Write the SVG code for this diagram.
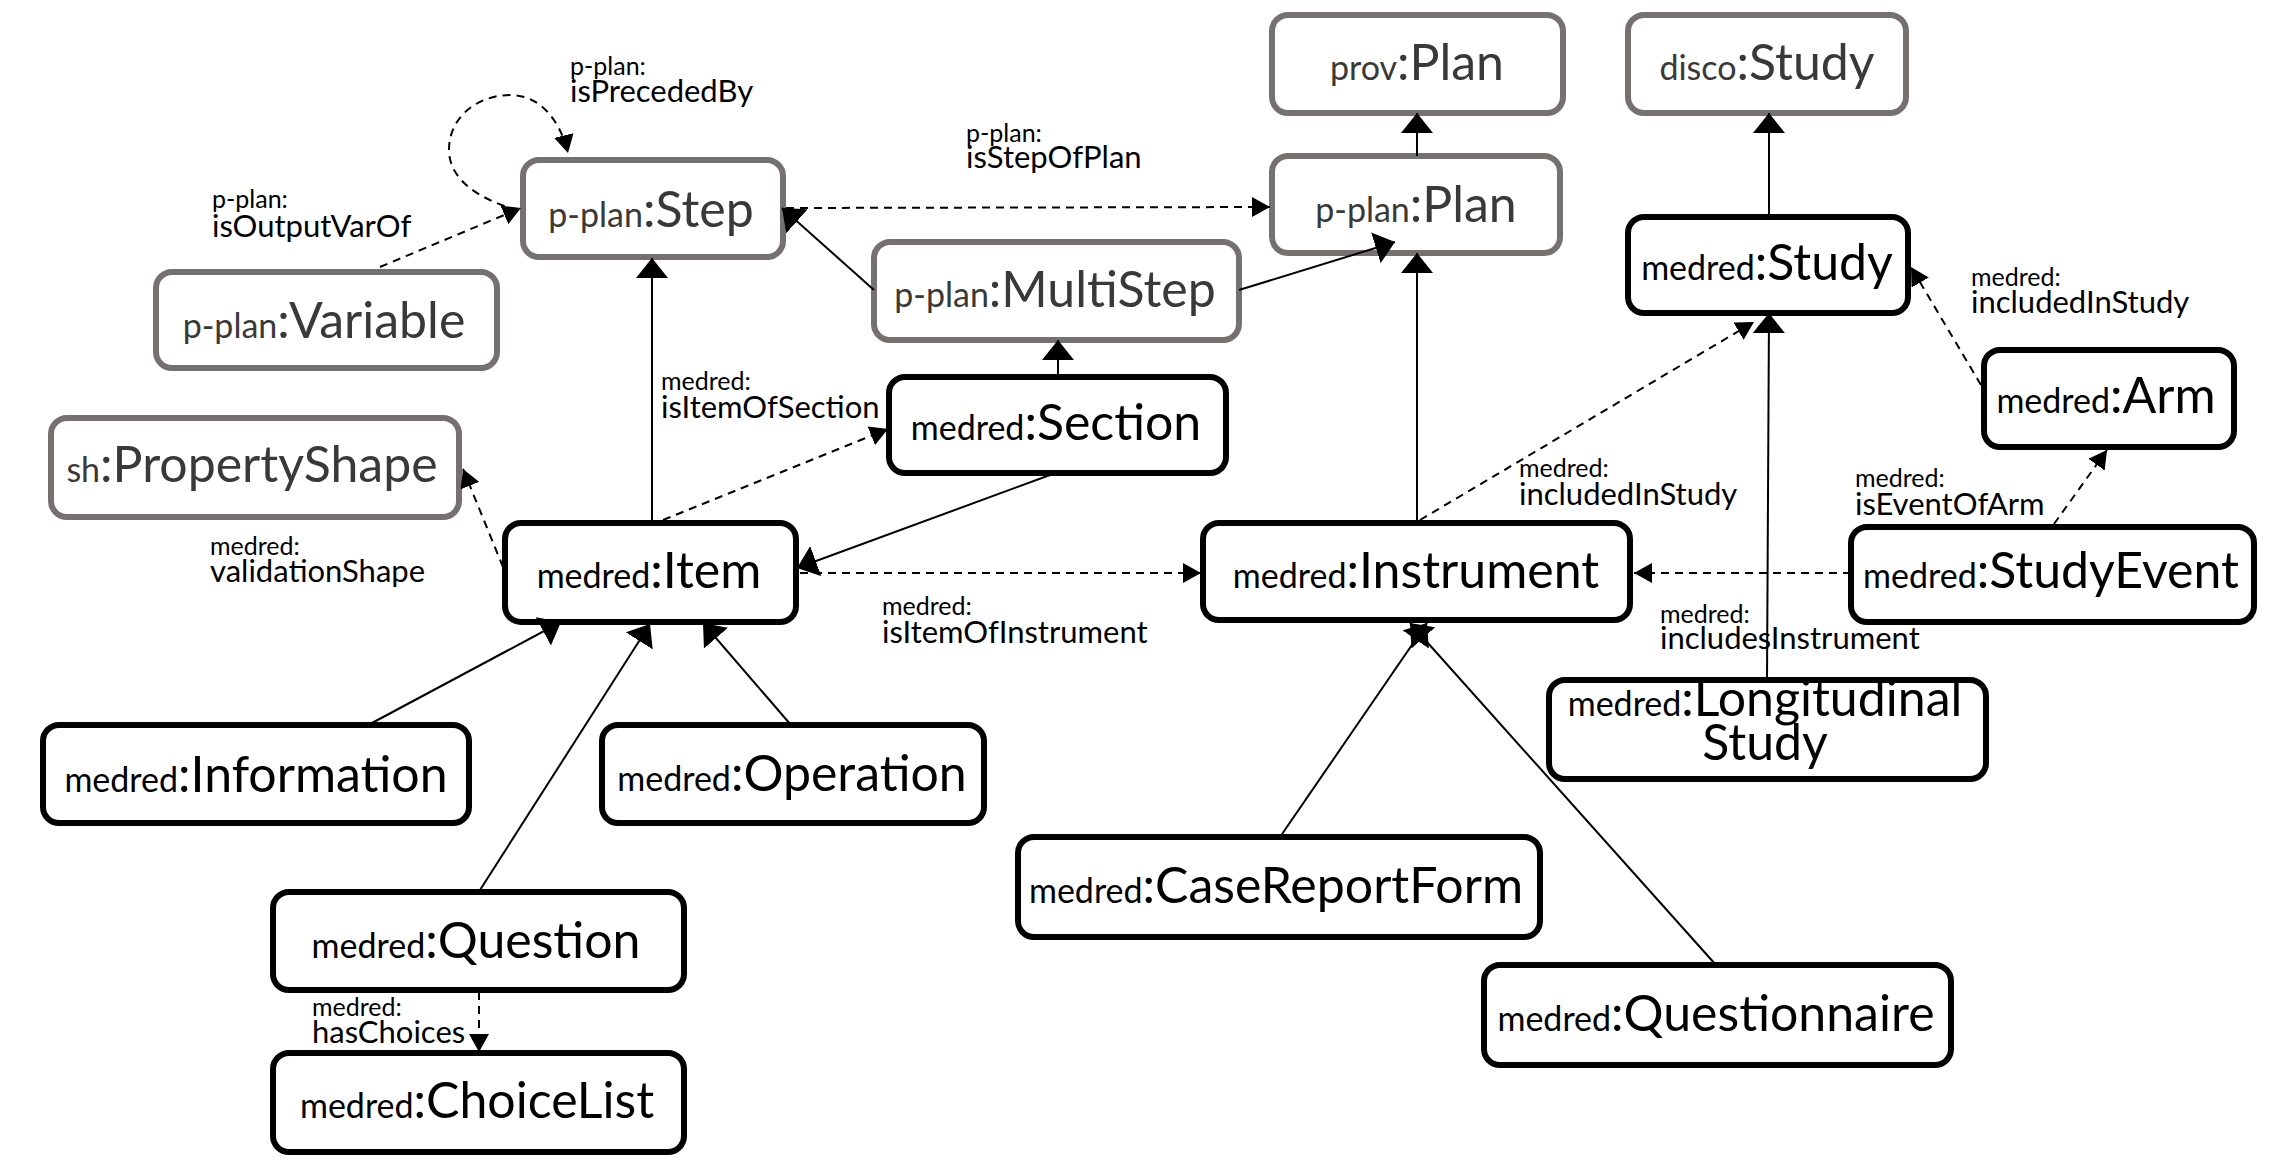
<svg xmlns="http://www.w3.org/2000/svg" width="2286" height="1176" viewBox="0 0 2286 1176">
<defs>
<style>
.g rect{fill:#fff;stroke:#767171;stroke-width:6}
.b rect{fill:#fff;stroke:#000;stroke-width:6}
.g text{fill:#3B3838}
.b text{fill:#000}
text{font-family:Lato,"Open Sans","DejaVu Sans",sans-serif}
.n{text-anchor:middle}
.p{font-size:34px}
.l{font-size:50px}
.lbl{font-size:31px;fill:#000}
.lp{font-size:25px}
.s{fill:none;stroke:#000;stroke-width:2;marker-end:url(#big)}
.d{fill:none;stroke:#000;stroke-width:2;stroke-dasharray:8 6;marker-end:url(#small)}
</style>
<marker id="big" markerUnits="userSpaceOnUse" markerWidth="20" markerHeight="32" refX="20" refY="16" orient="auto" viewBox="0 0 20 32"><path d="M0,0 L20,16 L0,32 z" fill="#000"/></marker>
<marker id="small" markerUnits="userSpaceOnUse" markerWidth="18" markerHeight="20" refX="18" refY="10" orient="auto" viewBox="0 0 18 20"><path d="M0,0 L18,10 L0,20 z" fill="#000"/></marker>
</defs>
<rect width="2286" height="1176" fill="#fff"/>

<g id="nodes">
<g id="prov-Plan" class="g"><rect x="1272" y="15" width="291" height="98" rx="16"/><text class="n" x="1417" y="80"><tspan class="p">prov</tspan><tspan class="l">:Plan</tspan></text></g>
<g id="disco-Study" class="g"><rect x="1628" y="15" width="278" height="98" rx="16"/><text class="n" x="1767" y="80"><tspan class="p">disco</tspan><tspan class="l">:Study</tspan></text></g>
<g id="pplan-Step" class="g"><rect x="523" y="160" width="260" height="97" rx="16"/><text class="n" x="651" y="227"><tspan class="p">p-plan</tspan><tspan class="l">:Step</tspan></text></g>
<g id="pplan-Plan" class="g"><rect x="1272" y="156" width="288" height="97" rx="16"/><text class="n" x="1416" y="222"><tspan class="p">p-plan</tspan><tspan class="l">:Plan</tspan></text></g>
<g id="pplan-MultiStep" class="g"><rect x="874" y="242" width="365" height="98" rx="16"/><text class="n" x="1055" y="307"><tspan class="p">p-plan</tspan><tspan class="l">:MultiStep</tspan></text></g>
<g id="pplan-Variable" class="g"><rect x="156" y="272" width="341" height="96" rx="16"/><text class="n" x="324" y="338"><tspan class="p">p-plan</tspan><tspan class="l">:Variable</tspan></text></g>
<g id="sh-PropertyShape" class="g"><rect x="51" y="418" width="408" height="99" rx="16"/><text class="n" x="252" y="482"><tspan class="p">sh</tspan><tspan class="l">:PropertyShape</tspan></text></g>
<g id="medred-Study" class="b"><rect x="1628" y="217" width="280" height="96" rx="16"/><text class="n" x="1767" y="280"><tspan class="p">medred</tspan><tspan class="l">:Study</tspan></text></g>
<g id="medred-Arm" class="b"><rect x="1984" y="350" width="250" height="97" rx="16"/><text class="n" x="2106" y="413"><tspan class="p">medred</tspan><tspan class="l">:Arm</tspan></text></g>
<g id="medred-Section" class="b"><rect x="889" y="377" width="337" height="96" rx="16"/><text class="n" x="1056" y="440"><tspan class="p">medred</tspan><tspan class="l">:Section</tspan></text></g>
<g id="medred-Item" class="b"><rect x="505" y="523" width="291" height="99" rx="16"/><text class="n" x="649" y="588"><tspan class="p">medred</tspan><tspan class="l">:Item</tspan></text></g>
<g id="medred-Instrument" class="b"><rect x="1203" y="523" width="427" height="97" rx="16"/><text class="n" x="1416" y="588"><tspan class="p">medred</tspan><tspan class="l">:Instrument</tspan></text></g>
<g id="medred-StudyEvent" class="b"><rect x="1851" y="527" width="403" height="95" rx="16"/><text class="n" x="2051" y="588"><tspan class="p">medred</tspan><tspan class="l">:StudyEvent</tspan></text></g>
<g id="medred-Information" class="b"><rect x="43" y="725" width="426" height="98" rx="16"/><text class="n" x="256" y="792"><tspan class="p">medred</tspan><tspan class="l">:Information</tspan></text></g>
<g id="medred-Operation" class="b"><rect x="602" y="725" width="382" height="98" rx="16"/><text class="n" x="792" y="791"><tspan class="p">medred</tspan><tspan class="l">:Operation</tspan></text></g>
<g id="medred-LongitudinalStudy" class="b"><rect x="1549" y="680" width="437" height="99" rx="16"/><text class="n" x="1765" y="716"><tspan class="p">medred</tspan><tspan class="l">:Longitudinal</tspan></text><text class="n l" x="1765" y="760">Study</text></g>
<g id="medred-CaseReportForm" class="b"><rect x="1018" y="837" width="522" height="100" rx="16"/><text class="n" x="1276" y="903"><tspan class="p">medred</tspan><tspan class="l">:CaseReportForm</tspan></text></g>
<g id="medred-Questionnaire" class="b"><rect x="1484" y="965" width="467" height="100" rx="16"/><text class="n" x="1716" y="1031"><tspan class="p">medred</tspan><tspan class="l">:Questionnaire</tspan></text></g>
<g id="medred-Question" class="b"><rect x="273" y="892" width="411" height="98" rx="16"/><text class="n" x="476" y="958"><tspan class="p">medred</tspan><tspan class="l">:Question</tspan></text></g>
<g id="medred-ChoiceList" class="b"><rect x="273" y="1053" width="411" height="99" rx="16"/><text class="n" x="477" y="1118"><tspan class="p">medred</tspan><tspan class="l">:ChoiceList</tspan></text></g>
</g>

<g id="connectors">
<line class="s" x1="1417" y1="156" x2="1417" y2="113"/>
<line class="s" x1="1769" y1="217" x2="1769" y2="113"/>
<line class="s" x1="874" y1="290" x2="782" y2="208"/>
<line class="s" x1="1239" y1="290" x2="1395" y2="242"/>
<line class="s" x1="1417" y1="523" x2="1417" y2="253"/>
<line class="s" x1="652" y1="523" x2="652" y2="258"/>
<line class="s" x1="1058" y1="377" x2="1058" y2="340"/>
<line class="s" x1="1050" y1="475" x2="797" y2="568"/>
<line class="s" x1="372" y1="723" x2="561" y2="622"/>
<line class="s" x1="480" y1="890" x2="650" y2="624"/>
<line class="s" x1="791" y1="725" x2="703" y2="623"/>
<line class="s" x1="1280" y1="837" x2="1427" y2="623"/>
<line class="s" x1="1716" y1="965" x2="1410" y2="623"/>
<line class="s" x1="1767" y1="680" x2="1769" y2="313"/>
<path class="d" d="M518,210 C480,200 449,180 449,150 C449,115 480,95 510,95 C540,95 560,120 568,153"/>
<line class="d" x1="380" y1="267" x2="521" y2="208"/>
<line class="d" x1="786" y1="208" x2="1270" y2="207"/>
<line class="d" x1="503" y1="567" x2="463" y2="469"/>
<line class="d" x1="663" y1="520" x2="888" y2="429"/>
<line class="d" x1="800" y1="573" x2="1201" y2="573"/>
<line class="d" x1="1420" y1="520" x2="1754" y2="322"/>
<line class="d" x1="1851" y1="573" x2="1634" y2="573"/>
<line class="d" x1="1981" y1="385" x2="1911" y2="267"/>
<line class="d" x1="2054" y1="524" x2="2107" y2="450"/>
<line class="d" x1="479" y1="992" x2="479" y2="1052"/>
</g>

<g id="labels">
<text class="lbl" x="570" y="102"><tspan class="lp" x="570" y="75">p-plan:</tspan><tspan x="570" y="102">isPrecededBy</tspan></text>
<text class="lbl"><tspan class="lp" x="212" y="208">p-plan:</tspan><tspan x="212" y="237">isOutputVarOf</tspan></text>
<text class="lbl"><tspan class="lp" x="966" y="142">p-plan:</tspan><tspan x="966" y="168">isStepOfPlan</tspan></text>
<text class="lbl"><tspan class="lp" x="661" y="390">medred:</tspan><tspan x="661" y="418">isItemOfSection</tspan></text>
<text class="lbl"><tspan class="lp" x="210" y="555">medred:</tspan><tspan x="210" y="582">validationShape</tspan></text>
<text class="lbl"><tspan class="lp" x="882" y="615">medred:</tspan><tspan x="882" y="643">isItemOfInstrument</tspan></text>
<text class="lbl"><tspan class="lp" x="1519" y="477">medred:</tspan><tspan x="1519" y="505">includedInStudy</tspan></text>
<text class="lbl"><tspan class="lp" x="1971" y="286">medred:</tspan><tspan x="1971" y="313">includedInStudy</tspan></text>
<text class="lbl"><tspan class="lp" x="1855" y="487">medred:</tspan><tspan x="1855" y="515">isEventOfArm</tspan></text>
<text class="lbl"><tspan class="lp" x="1660" y="623">medred:</tspan><tspan x="1660" y="649">includesInstrument</tspan></text>
<text class="lbl"><tspan class="lp" x="312" y="1016">medred:</tspan><tspan x="312" y="1043">hasChoices</tspan></text>
</g>
</svg>
